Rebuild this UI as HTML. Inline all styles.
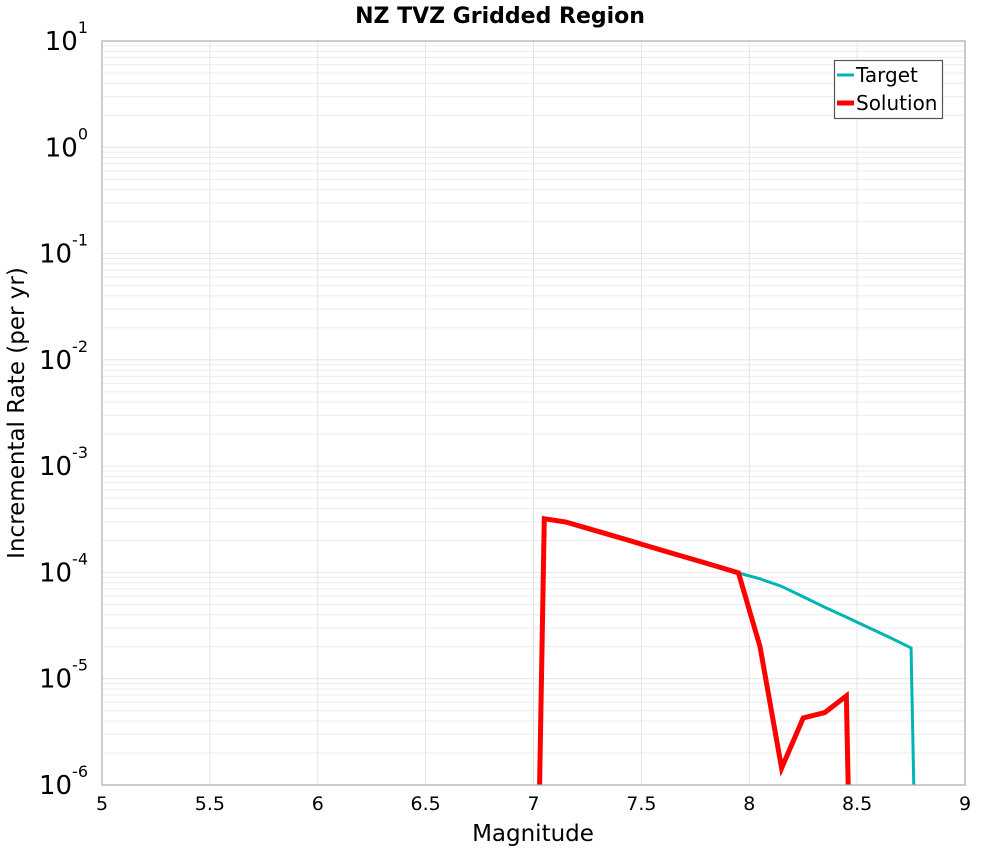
<!DOCTYPE html>
<html><head><meta charset="utf-8"><style>
html,body{margin:0;padding:0;background:#fff;overflow:hidden;width:1000px;height:850px;}
svg{display:block;}
svg text{font-family:"DejaVu Sans","Liberation Sans",sans-serif;}
</style></head><body>
<svg id="chart" width="1000" height="850" xmlns="http://www.w3.org/2000/svg">
<defs><clipPath id="clip"><rect x="102" y="41" width="863" height="744"/></clipPath></defs>
<rect x="0" y="0" width="1000" height="850" fill="#fff"/>
<text x="500" y="23" text-anchor="middle" font-size="22" font-weight="600">NZ TVZ Gridded Region</text>
<g id="grid"></g>
<g id="series" clip-path="url(#clip)"></g>
<rect x="102" y="41" width="863" height="744" fill="none" stroke="#aaa" stroke-width="1.2"/>
<g id="xticks"></g>
<g id="yticks"></g>
<text x="533" y="841" text-anchor="middle" font-size="23">Magnitude</text>
<text transform="translate(24,413) rotate(-90)" text-anchor="middle" font-size="23">Incremental Rate (per yr)</text>
<g>
<rect x="834.5" y="60.5" width="108" height="58" fill="#fff" stroke="#555" stroke-width="1.2"/>
<line x1="837" y1="75" x2="854" y2="75" stroke="#00b4b4" stroke-width="3"/>
<text x="856" y="82" font-size="20">Target</text>
<line x1="837" y1="103" x2="854" y2="103" stroke="#ff0000" stroke-width="5"/>
<text x="856" y="110" font-size="20">Solution</text>
</g>
</svg>
<script>
const magnitudes=[6.95,7.05,7.15,7.25,7.35,7.45,7.55,7.65,7.75,7.85,7.95,8.05,8.15,8.25,8.35,8.45,8.55,8.65,8.75,8.85];
const targetRates=[1e-15,3.2e-4,2.98e-4,2.6e-4,2.27e-4,1.98e-4,1.72e-4,1.5e-4,1.31e-4,1.14e-4,9.9e-5,8.7e-5,7.4e-5,5.9e-5,4.7e-5,3.8e-5,3.05e-5,2.45e-5,1.95e-5,1e-15];
const solutionRates=[1e-15,3.2e-4,2.98e-4,2.6e-4,2.27e-4,1.98e-4,1.72e-4,1.5e-4,1.31e-4,1.14e-4,9.9e-5,2.0e-5,1.44e-6,4.27e-6,4.8e-6,6.9e-6,1e-15];
const xTicks=[5,5.5,6,6.5,7,7.5,8,8.5,9];
const yExps=[1,0,-1,-2,-3,-4,-5,-6];
const NS="http://www.w3.org/2000/svg";
const X0=102,X1=965,Y0=41,Y1=785;
function xs(m){return X0+(m-5)/4*(X1-X0);}
function ys(v){return Y0+(1-Math.log10(v))/7*(Y1-Y0);}
function mk(t,a,p){const e=document.createElementNS(NS,t);for(const k in a)e.setAttribute(k,a[k]);p.appendChild(e);return e;}
const grid=document.getElementById('grid');
for(let d=-6;d<1;d++){for(let k=2;k<=9;k++){const y=ys(k*Math.pow(10,d));
const l=mk('line',{x1:X0,x2:X1,y1:y,y2:y,stroke:'#ececec','stroke-width':1},grid);

}}
yExps.forEach(e=>{const y=ys(Math.pow(10,e));
const l=mk('line',{x1:X0,x2:X1,y1:y,y2:y,stroke:'#e4e4e4','stroke-width':1},grid);

});
const xt=document.getElementById('xticks');
xTicks.forEach(m=>{const x=xs(m);
const l=mk('line',{x1:x,x2:x,y1:Y0,y2:Y1,stroke:'#e4e4e4','stroke-width':1},grid);


const t=mk('text',{x:x,y:810,'text-anchor':'middle','font-size':19},xt);t.textContent=String(m);

});
const yt=document.getElementById('yticks');
yExps.forEach(e=>{const y=ys(Math.pow(10,e));
const t=mk('text',{x:88,y:y+9,'text-anchor':'end','font-size':26},yt);


t.appendChild(document.createTextNode('10'));
const s=mk('tspan',{'font-size':16,dy:-17},t);s.textContent=String(e);});
const ser=document.getElementById('series');
function line(ms,vs,col,w,name){const pts=vs.map((v,i)=>xs(ms[i])+','+ys(v)).join(' ');
const p=mk('polyline',{points:pts,fill:'none',stroke:col,'stroke-width':w,'stroke-linejoin':'miter'},ser);

}
line(magnitudes,targetRates,'#00b4b4',3,'target-line');
line(magnitudes,solutionRates,'#ff0000',5,'solution-line');
</script>
</body></html>
